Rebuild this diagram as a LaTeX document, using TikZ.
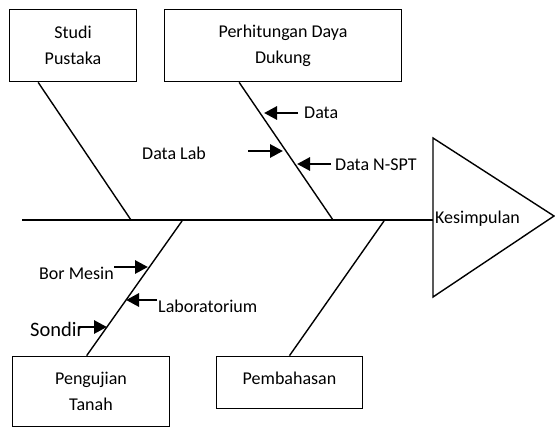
\documentclass[tikz,border=0pt]{standalone}
\usepackage{fontspec}
\setmainfont{Carlito}
\usetikzlibrary{arrows.meta,calc}
\begin{document}
\begin{tikzpicture}[x=1pt,y=-1pt,
  causebox/.style={draw,line width=1.7pt,align=center,inner sep=0pt,
    font=\fontsize{18}{26}\selectfont},
  bone/.style={line width=1.4pt},
  pointer/.style={line width=2.9pt,-{Triangle[length=13pt,width=13pt]}},
  lbl/.style={inner sep=0pt,anchor=base west,font=\fontsize{18}{22}\selectfont}]
\useasboundingbox (0,0) rectangle (555,428);

% cause boxes
\node[causebox,minimum width=127pt,minimum height=72pt] (studi) at (73,45.5) {Studi\\Pustaka};
\node[causebox,minimum width=237pt,minimum height=72pt] (hitung) at (283,45.5) {Perhitungan Daya\\Dukung};
\node[causebox,minimum width=157pt,minimum height=70pt] (uji) at (91,391.5) {Pengujian\\Tanah};
\node[causebox,minimum width=146pt,minimum height=52pt,text depth=8pt] (bahas) at (289.5,382.5) {Pembahasan};

% spine and effect head
\coordinate (tail) at (22,220);
\coordinate (headL) at (433,220);
\coordinate (headT) at (433,138);
\coordinate (headB) at (433,297);
\coordinate (headTip) at (554,216);
\draw[bone] (tail) -- (headL);
\draw[bone,line join=miter] (headT) -- (headTip) -- (headB) -- cycle;
\node[lbl,anchor=west] (kes) at (435,219) {Kesimpulan};

% bones from the causes to the spine
\coordinate (j1) at (131,220);
\coordinate (j2) at (333,220);
\coordinate (j3) at (182,221);
\coordinate (j4) at (384,221);
\draw[bone] ([xshift=29.5pt]studi.south west) -- (j1);
\draw[bone] ([xshift=75.5pt]hitung.south west) -- (j2);
\draw[bone] ([xshift=75pt]uji.north west) -- (j3);
\draw[bone] (bahas.north) -- (j4);

% sub-causes, upper bone
\node[lbl] (data) at (304,119) {Data};
\node[lbl] (lab) at (142,160) {Data Lab};
\node[lbl] (spt) at (335,170) {Data N-SPT};
\coordinate (a1t) at (298,113); \coordinate (a1h) at (264,113);
\coordinate (a2t) at (248,151); \coordinate (a2h) at (283,151);
\coordinate (a3t) at (331,164); \coordinate (a3h) at (297,164);
\draw[pointer] (a1t) -- (a1h);
\draw[pointer] (a2t) -- (a2h);
\draw[pointer] (a3t) -- (a3h);

% sub-causes, lower bone
\node[lbl] (bor) at (39,279) {Bor Mesin};
\node[lbl] (labor) at (158,312) {Laboratorium};
\node[lbl,font=\fontsize{20.5}{24}\selectfont] (sondir) at (30,336) {Sondir};
\coordinate (b1t) at (114,267); \coordinate (b1h) at (148,267);
\coordinate (b2t) at (157,300); \coordinate (b2h) at (126,300);
\coordinate (b3t) at (79,327); \coordinate (b3h) at (107,327);
\draw[pointer] (b1t) -- (b1h);
\draw[pointer] (b2t) -- (b2h);
\draw[pointer] (b3t) -- (b3h);
\end{tikzpicture}
\end{document}
